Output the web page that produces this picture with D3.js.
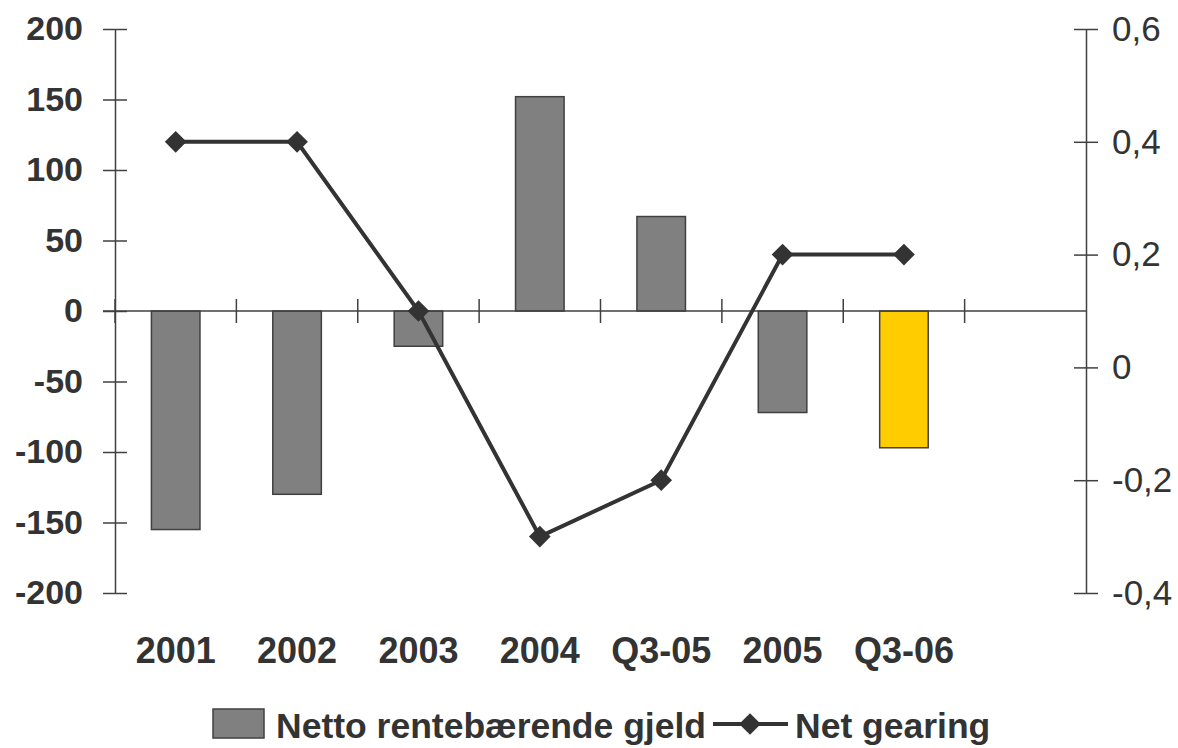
<!DOCTYPE html>
<html>
<head>
<meta charset="utf-8">
<script src="https://cdn.jsdelivr.net/npm/d3@7"></script>
<style>
  body { margin: 0; background: #fff; }
  text { font-family: "Liberation Sans", Arial, sans-serif; fill: #333; }
</style>
</head>
<body>
<div class="chart"></div>
<script>
// data
const categories = ["2001", "2002", "2003", "2004", "Q3-05", "2005", "Q3-06"];
const gjeld = [-155, -130, -25, 152, 67, -72, -97];
const gearing = [0.4, 0.4, 0.1, -0.3, -0.2, 0.2, 0.2];
const leftTicks = [200, 150, 100, 50, 0, -50, -100, -150, -200];
const rightTicks = [0.6, 0.4, 0.2, 0, -0.2, -0.4];
const highlight = "Q3-06";

const w = 1178;
const h = 748;

const svg = d3.select(".chart")
  .append("svg")
  .attr("width", w)
  .attr("height", h)
  .style("background-color", "white");

// one empty slot after the last category, like the original
const x = d3.scaleBand()
  .domain(categories.concat([""]))
  .range([115, 1086]);

const y = d3.scaleLinear().domain([-200, 200]).range([593, 29]);
const y2 = d3.scaleLinear().domain([-0.4, 0.6]).range([593, 29]);

const axisColor = "#404040";

// bars
svg.selectAll("rect.bar")
  .data(categories)
  .enter()
  .append("rect")
  .attr("class", "bar")
  .attr("x", d => x(d) + x.bandwidth() * 0.3)
  .attr("width", x.bandwidth() * 0.4)
  .attr("y", (d, i) => y(Math.max(0, gjeld[i])))
  .attr("height", (d, i) => Math.abs(y(gjeld[i]) - y(0)))
  .attr("fill", d => d === highlight ? "#FFCC00" : "#808080")
  .attr("stroke", axisColor)
  .attr("stroke-width", 1.5);

// left axis
const leftAxis = d3.axisLeft(y).tickValues(leftTicks).tickSize(0).tickFormat(d => String(d));
const gl = svg.append("g").attr("transform", "translate(115,0)").call(leftAxis);
gl.select(".domain").attr("stroke", axisColor).attr("stroke-width", 1.5);
gl.selectAll(".tick line").remove();
gl.selectAll(".tick").append("line")
  .attr("x1", -12).attr("x2", 12)
  .attr("stroke", axisColor).attr("stroke-width", 1.5);
gl.selectAll(".tick text")
  .attr("x", -32)
  .attr("font-size", 34)
  .attr("font-weight", "bold")
  .attr("font-family", "Liberation Sans, Arial, sans-serif")
  .attr("fill", "#333");

// right axis
const rightAxis = d3.axisRight(y2).tickValues(rightTicks).tickSize(0)
  .tickFormat(d => d === 0 ? "0" : d.toFixed(1).replace(".", ","));
const gr = svg.append("g").attr("transform", "translate(1086,0)").call(rightAxis);
gr.select(".domain").attr("stroke", axisColor).attr("stroke-width", 1.5);
gr.selectAll(".tick line").remove();
gr.selectAll(".tick").append("line")
  .attr("x1", -12).attr("x2", 12)
  .attr("stroke", axisColor).attr("stroke-width", 1.5);
gr.selectAll(".tick text")
  .attr("x", 26)
  .attr("font-size", 35)
  .attr("font-family", "Liberation Sans, Arial, sans-serif")
  .attr("fill", "#333");

// zero line with category ticks
svg.append("line")
  .attr("x1", 103).attr("x2", 1086)
  .attr("y1", y(0)).attr("y2", y(0))
  .attr("stroke", axisColor).attr("stroke-width", 1.5);
svg.selectAll("line.ctick")
  .data(x.domain())
  .enter()
  .append("line")
  .attr("class", "ctick")
  .attr("x1", d => x(d)).attr("x2", d => x(d))
  .attr("y1", y(0) - 12).attr("y2", y(0) + 12)
  .attr("stroke", axisColor).attr("stroke-width", 1.5);

// category labels
svg.selectAll("text.cat")
  .data(categories)
  .enter()
  .append("text")
  .attr("class", "cat")
  .attr("x", d => x(d) + x.bandwidth() / 2)
  .attr("y", 663)
  .attr("text-anchor", "middle")
  .attr("font-size", 36)
  .attr("font-weight", "bold")
  .text(d => d);

// line
const line = d3.line()
  .x((d, i) => x(categories[i]) + x.bandwidth() / 2)
  .y(d => y2(d));

svg.append("path")
  .datum(gearing)
  .attr("d", line)
  .attr("fill", "none")
  .attr("stroke", "#333")
  .attr("stroke-width", 4);

const diamond = d3.symbol().type(d3.symbolDiamond2).size(300);
svg.selectAll("path.pt")
  .data(gearing)
  .enter()
  .append("path")
  .attr("class", "pt")
  .attr("d", diamond)
  .attr("transform", (d, i) => "translate(" + (x(categories[i]) + x.bandwidth() / 2) + "," + y2(d) + ")")
  .attr("fill", "#333");

// legend
const lg = svg.append("g");
lg.append("rect")
  .attr("x", 213).attr("y", 709).attr("width", 51).attr("height", 29)
  .attr("fill", "#808080").attr("stroke", axisColor).attr("stroke-width", 1.5);
lg.append("text")
  .attr("x", 276).attr("y", 738)
  .attr("font-size", 35.5).attr("font-weight", "bold")
  .text("Netto rentebærende gjeld");
lg.append("line")
  .attr("x1", 713).attr("x2", 788).attr("y1", 724).attr("y2", 724)
  .attr("stroke", "#333").attr("stroke-width", 4);
lg.append("path")
  .attr("d", diamond)
  .attr("transform", "translate(750,724)")
  .attr("fill", "#333");
lg.append("text")
  .attr("x", 795).attr("y", 738)
  .attr("font-size", 35.5).attr("font-weight", "bold")
  .text("Net gearing");
</script>
</body>
</html>
